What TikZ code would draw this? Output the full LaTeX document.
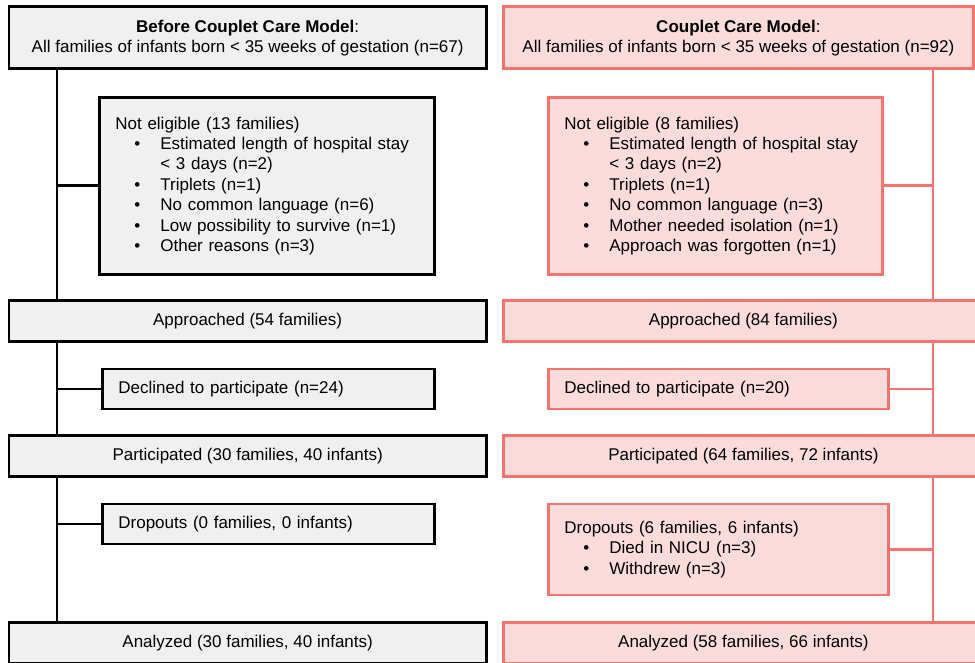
\documentclass[tikz,border=0pt]{standalone}
\usepackage{fontspec}
\setmainfont{Liberation Sans}

\definecolor{boxgray}{HTML}{F0F0F0}
\definecolor{boxpink}{HTML}{FCDCDA}
\definecolor{linepink}{HTML}{F4756F}

% list items inside the exclusion boxes
\newcommand{\bul}[1]{\hspace*{19pt}\makebox[26pt][l]{•}#1}
\newcommand{\cont}[1]{\hspace*{45pt}#1}

\tikzset{
  every node/.style={font=\fontsize{17}{20.4}\selectfont},
  ctrlbox/.style={draw=black, fill=boxgray, line width=2.8pt},
  ccbox/.style={draw=linepink, fill=boxpink, line width=2.8pt},
  mainbox/.style={anchor=north west, inner sep=0pt, align=center},
  sidebox/.style={anchor=north west, inner xsep=16pt, inner ysep=0pt, align=left},
  ctrlline/.style={draw=black, line width=2.8pt},
  ccline/.style={draw=linepink, line width=2.8pt}
}

\begin{document}
\begin{tikzpicture}[x=1pt, y=1pt]
\path[use as bounding box, clip] (0,0) rectangle (975,-663);

% spines of the two flows
\coordinate (ls) at (57,0);
\coordinate (rs) at (933,0);

% ---- before the couplet care model ----
\node[ctrlbox, mainbox, minimum width=477.5pt, minimum height=62pt] (b0) at (7.5,-5.5)
  {\textbf{Before Couplet Care Model}:\\All families of infants born < 35 weeks of gestation (n=67)};
\node[ctrlbox, sidebox, text width=303pt, minimum height=177pt] (b1) at (98,-96)
  {Not eligible (13 families)\\\bul{Estimated length of hospital stay}\\\cont{< 3 days (n=2)}\\\bul{Triplets (n=1)}\\\bul{No common language (n=6)}\\\bul{Low possibility to survive (n=1)}\\\bul{Other reasons (n=3)}};
\node[ctrlbox, mainbox, minimum width=477.5pt, minimum height=41pt] (b2) at (7.5,-299)
  {Approached (54 families)};
\node[ctrlbox, sidebox, text width=300pt, minimum height=40pt] (b3) at (101,-367.5)
  {Declined to participate (n=24)};
\node[ctrlbox, mainbox, minimum width=477.5pt, minimum height=41pt] (b4) at (7.5,-434)
  {Participated (30 families, 40 infants)};
\node[ctrlbox, sidebox, text width=300pt, minimum height=40pt] (b5) at (101,-502.5)
  {Dropouts (0 families, 0 infants)};
\node[ctrlbox, mainbox, minimum width=477.5pt, minimum height=41pt] (b6) at (7.5,-621)
  {Analyzed (30 families, 40 infants)};

\path[ctrlline] (b0.south -| ls) -- (b2.north -| ls);
\path[ctrlline] (b2.south -| ls) -- (b4.north -| ls);
\path[ctrlline] (b4.south -| ls) -- (b6.north -| ls);
\path[ctrlline] (b1.west) -- (b1.west -| ls);
\path[ctrlline] (b3.west) -- (b3.west -| ls);
\path[ctrlline] (b5.west) -- (b5.west -| ls);

% ---- couplet care model ----
\node[ccbox, mainbox, minimum width=470pt, minimum height=62pt] (c0) at (502,-5.5)
  {\textbf{Couplet Care Model}:\\All families of infants born < 35 weeks of gestation (n=92)};
\node[ccbox, sidebox, text width=302pt, minimum height=177pt] (c1) at (547,-96)
  {Not eligible (8 families)\\\bul{Estimated length of hospital stay}\\\cont{< 3 days (n=2)}\\\bul{Triplets (n=1)}\\\bul{No common language (n=3)}\\\bul{Mother needed isolation (n=1)}\\\bul{Approach was forgotten (n=1)}};
\node[ccbox, mainbox, minimum width=480pt, minimum height=41pt] (c2) at (502,-299)
  {Approached (84 families)};
\node[ccbox, sidebox, text width=308pt, minimum height=40pt] (c3) at (547,-367.5)
  {Declined to participate (n=20)};
\node[ccbox, mainbox, minimum width=480pt, minimum height=41pt] (c4) at (502,-434)
  {Participated (64 families, 72 infants)};
\node[ccbox, sidebox, text width=308pt, minimum height=91pt] (c5) at (547,-502.5)
  {Dropouts (6 families, 6 infants)\\\bul{Died in NICU (n=3)}\\\bul{Withdrew (n=3)}};
\node[ccbox, mainbox, minimum width=480pt, minimum height=41pt] (c6) at (502,-621)
  {Analyzed (58 families, 66 infants)};

\path[ccline] (c0.south -| rs) -- (c2.north -| rs);
\path[ccline] (c2.south -| rs) -- (c4.north -| rs);
\path[ccline] (c4.south -| rs) -- (c6.north -| rs);
\path[ccline] (c1.east) -- (c1.east -| rs);
\path[ccline] (c3.east) -- (c3.east -| rs);
\path[ccline] (c5.east) -- (c5.east -| rs);
\end{tikzpicture}
\end{document}
